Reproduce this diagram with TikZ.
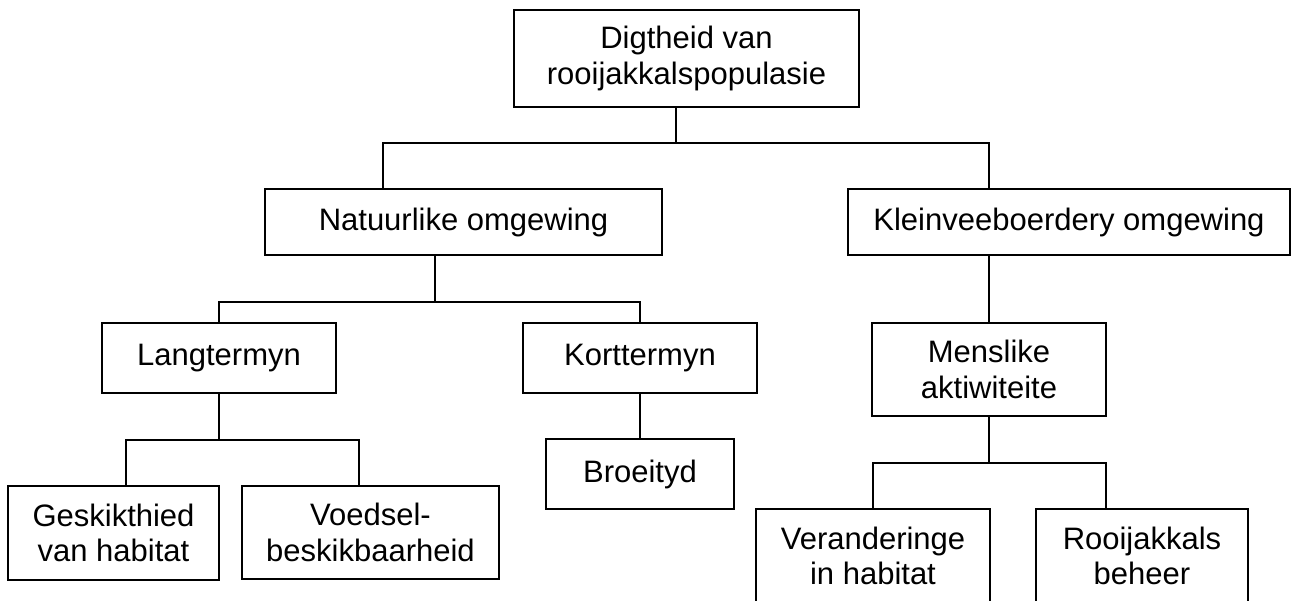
\documentclass[tikz,border=0pt]{standalone}
\usepackage{fontspec}
\setmainfont{Liberation Sans}
\tikzset{
  centered/.style = { align=center, anchor=center },
       box/.style = { draw, centered, line width=1.6pt, inner sep=0pt,
                      font=\fontsize{31}{35.5}\selectfont },
      link/.style = { line width=1.6pt },
}

\begin{document}
\begin{tikzpicture}[x=1pt, y=-1pt]
  \useasboundingbox (0,0) rectangle (1291,601);
  \clip (0,0) rectangle (1291,601);

  % boxes
  \node[box, minimum width=345, minimum height=97] (dens)  at (686.5,58.5) {Digtheid van\\rooijakkalspopulasie};
  \node[box, minimum width=397, minimum height=66] (nat)   at (463.5,222)  {Natuurlike omgewing};
  \node[box, minimum width=442, minimum height=66] (klein) at (1069,222)   {Kleinveeboerdery omgewing};
  \node[box, minimum width=234, minimum height=70] (lang)  at (219,358)    {Langtermyn};
  \node[box, minimum width=234, minimum height=70] (kort)  at (640,358)    {Korttermyn};
  \node[box, minimum width=234, minimum height=93] (mens)  at (989,369.5)  {Menslike\\aktiwiteite};
  \node[box, minimum width=211, minimum height=94] (gesk)  at (113.5,533)  {Geskikthied\\van habitat};
  \node[box, minimum width=257, minimum height=93] (voed)  at (370.5,532.5){Voedsel-\\beskikbaarheid};
  \node[box, minimum width=188, minimum height=70] (broei) at (640,474)    {Broeityd};
  \node[box, minimum width=234, minimum height=94] (veran) at (873,556)    {Veranderinge\\in habitat};
  \node[box, minimum width=212, minimum height=94] (rooi)  at (1142,556)   {Rooijakkals\\beheer};

  % junctions
  \coordinate (j0) at (676,143);
  \coordinate (nl) at (383,143);
  \coordinate (kl) at (989,143);
  \coordinate (j1) at (435,302);
  \coordinate (j2) at (219,440);
  \coordinate (gl) at (126,440);
  \coordinate (vl) at (359,440);
  \coordinate (rl) at (1106,463);

  % connectors
  \draw [link] (dens.south -| j0) -- (j0);
  \draw [link] (nat.north -| nl) -- (nl) -- (kl) -- (klein.north -| kl);
  \draw [link] (nat.south -| j1) -- (j1);
  \draw [link] (lang.north) |- (j1) -| (kort.north);
  \draw [link] (klein.south -| mens.north) -- (mens.north);
  \draw [link] (lang.south) -- (j2);
  \draw [link] (gesk.north -| gl) -- (gl) -- (vl) -- (voed.north -| vl);
  \draw [link] (kort.south) -- (broei.north);
  \draw [link] (mens.south) -- (mens.south |- rl);
  \draw [link] (veran.north) |- (rl) -- (rooi.north -| rl);

\end{tikzpicture}
\end{document}
